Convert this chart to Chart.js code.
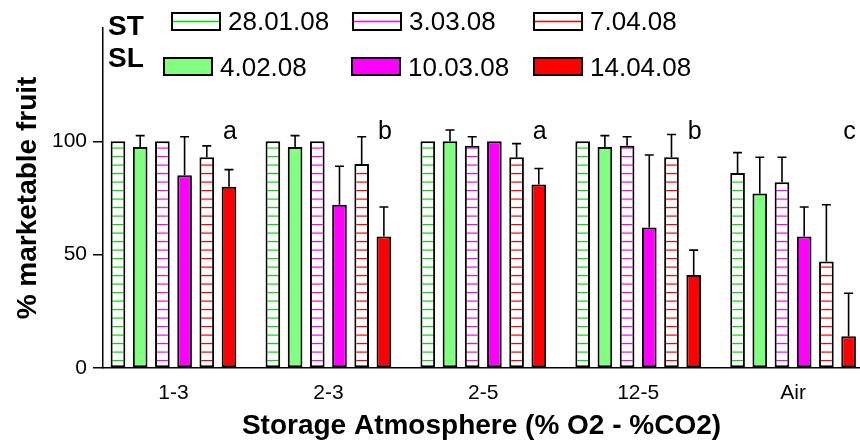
<!DOCTYPE html>
<html><head><meta charset="utf-8">
<script src="https://cdn.jsdelivr.net/npm/chart.js@4/dist/chart.umd.min.js"></script>
<style>html,body{margin:0;padding:0;background:#fff;overflow:hidden}#wrap{width:860px;height:443px;position:relative}</style>
</head><body><div id="wrap"><canvas id="c"></canvas></div>
<script>
// ---- data ----
const categories = ['1-3', '2-3', '2-5', '12-5', 'Air'];
const groupNames = ['ST', 'SL'];
const seriesNames = ['28.01.08', '4.02.08', '3.03.08', '10.03.08', '7.04.08', '14.04.08'];
const st280108 = [100, 100, 100, 100, 86];
const st280108Err = [0, 0, 0, 0, 9];
const sl040208 = [97.5, 97.5, 100, 97.5, 77];
const sl040208Err = [5, 5, 5, 5, 16];
const st030308 = [100, 100, 98, 98, 82];
const st030308Err = [0, 0, 4, 4, 11];
const sl100308 = [85, 72, 100, 62, 58];
const sl100308Err = [17, 17, 0, 32, 13];
const st070408 = [93, 90, 93, 93, 47];
const st070408Err = [5, 12, 6, 10, 25];
const sl140408 = [80, 58, 81, 41, 14];
const sl140408Err = [7.5, 13, 7, 11, 19];
const letters = ['a', 'b', 'a', 'b', 'c'];
const yTicks = [0, 50, 100];

const FONT = "'Liberation Sans', Arial, Helvetica, sans-serif";
const canvas = document.getElementById('c');
const mainCtx = canvas.getContext('2d');
function stripes(color) {
  const c = document.createElement('canvas');
  c.width = 8; c.height = 17;
  const g = c.getContext('2d');
  g.fillStyle = '#fff'; g.fillRect(0, 0, 8, 17);
  g.fillStyle = color;
  g.fillRect(0, 3, 8, 1.2);
  g.fillRect(0, 11.5, 8, 1.2);
  return mainCtx.createPattern(c, 'repeat');
}
const GREEN_LINE = '#00e000', GREEN_FILL = '#80ff80', MAG = '#ff00ff', RED = '#ff0000';

const seriesDefs = [
  {name: seriesNames[0], group: 0, vals: st280108, err: st280108Err, hatch: true, color: GREEN_LINE},
  {name: seriesNames[1], group: 1, vals: sl040208, err: sl040208Err, hatch: false, color: GREEN_FILL},
  {name: seriesNames[2], group: 0, vals: st030308, err: st030308Err, hatch: true, color: MAG},
  {name: seriesNames[3], group: 1, vals: sl100308, err: sl100308Err, hatch: false, color: MAG},
  {name: seriesNames[4], group: 0, vals: st070408, err: st070408Err, hatch: true, color: RED},
  {name: seriesNames[5], group: 1, vals: sl140408, err: sl140408Err, hatch: false, color: RED}
];

const datasets = seriesDefs.map(s => ({
  label: groupNames[s.group] + ' ' + s.name,
  data: s.vals.map((v, i) => ({x: i, y: v})),
  errors: s.err,
  hatch: s.hatch,
  baseColor: s.color,
  backgroundColor: s.hatch ? stripes(s.color) : s.color,
  borderColor: '#000',
  borderWidth: 2,
  borderSkipped: false,
  categoryPercentage: 0.86,
  barPercentage: 0.66
}));

const errorBars = {
  id: 'errorBars',
  afterDatasetsDraw(chart) {
    const ctx = chart.ctx, y = chart.scales.y;
    ctx.save();
    ctx.strokeStyle = '#000'; ctx.lineWidth = 1.6;
    chart.data.datasets.forEach((ds, di) => {
      const meta = chart.getDatasetMeta(di);
      meta.data.forEach((bar, i) => {
        const e = ds.errors[i];
        if (!e) return;
        const top = y.getPixelForValue(ds.data[i].y + e);
        ctx.beginPath();
        ctx.moveTo(bar.x, bar.y); ctx.lineTo(bar.x, top);
        ctx.moveTo(bar.x - 4.5, top); ctx.lineTo(bar.x + 4.5, top);
        ctx.stroke();
      });
    });
    // significance letters above last bar of each group
    const last = chart.getDatasetMeta(chart.data.datasets.length - 1);
    ctx.fillStyle = '#000';
    ctx.font = '25px ' + FONT;
    ctx.textAlign = 'center'; ctx.textBaseline = 'alphabetic';
    letters.forEach((l, i) => {
      ctx.fillText(l, last.data[i].x + 1, y.getPixelForValue(101));
    });
    ctx.restore();
  }
};

const customLegend = {
  id: 'customLegend',
  afterDraw(chart) {
    const ctx = chart.ctx;
    ctx.save();
    ctx.fillStyle = '#000';
    ctx.font = 'bold 28px ' + FONT;
    ctx.textAlign = 'left'; ctx.textBaseline = 'alphabetic';
    const labelBase = [35, 67];
    groupNames.forEach((g, r) => ctx.fillText(g, 108, labelBase[r]));
    const boxX = [[172, 353, 534], [164, 352, 534]];
    const boxY = [13, 58];
    const textBase = [30, 76];
    const counters = [0, 0];
    ctx.font = '26px ' + FONT;
    chart.data.datasets.forEach((ds, di) => {
      const r = seriesDefs[di].group;
      const k = counters[r]++;
      const x = boxX[r][k], yb = boxY[r];
      const w = 48, h = 17;
      ctx.fillStyle = ds.hatch ? '#fff' : ds.baseColor;
      ctx.fillRect(x, yb, w, h);
      if (ds.hatch) {
        ctx.strokeStyle = ds.baseColor; ctx.lineWidth = 1.5;
        ctx.beginPath(); ctx.moveTo(x + 1, yb + h / 2); ctx.lineTo(x + w - 1, yb + h / 2); ctx.stroke();
      }
      ctx.strokeStyle = '#000'; ctx.lineWidth = 2;
      ctx.strokeRect(x, yb, w, h);
      ctx.fillStyle = '#000';
      ctx.fillText(seriesDefs[di].name, x + 56, textBase[r]);
    });
    ctx.restore();
  }
};

new Chart(canvas, {
  type: 'bar',
  data: {datasets},
  plugins: [errorBars, customLegend],
  options: {
    responsive: true,
    maintainAspectRatio: false,
    animation: false,
    devicePixelRatio: 1,
    layout: {padding: {top: 28, right: 0, left: 0, bottom: 0}},
    plugins: {legend: {display: false}, tooltip: {enabled: false}},
    scales: {
      x: {
        type: 'linear',
        offset: false,
        min: -0.455,
        max: 4.432,
        afterBuildTicks: s => { s.ticks = categories.map((c, i) => ({value: i})); },
        afterFit: s => { s.height = 75; },
        grid: {display: false, drawTicks: false, offset: false},
        border: {display: true, color: '#000', width: 1.5},
        ticks: {
          autoSkip: false, maxRotation: 0, padding: 13, color: '#000',
          font: {family: FONT, size: 21},
          callback: v => categories[v]
        },
        title: {
          display: true, text: 'Storage Atmosphere (% O2 - %CO2)', color: '#000',
          font: {family: FONT, size: 28, weight: 'bold'}, padding: {top: 0, bottom: 0}
        }
      },
      y: {
        min: 0, max: 150,
        afterBuildTicks: s => { s.ticks = yTicks.map(v => ({value: v})); },
        afterFit: s => { s.width = 103; },
        grid: {display: true, drawOnChartArea: false, drawTicks: true, tickLength: 10, color: '#000', lineWidth: 1.5},
        border: {display: true, color: '#000', width: 1.5},
        ticks: {padding: 6, color: '#000', font: {family: FONT, size: 21}},
        title: {
          display: true, text: '% marketable fruit', color: '#000',
          font: {family: FONT, size: 28, weight: 'bold'}, padding: {top: 11, bottom: 0}
        }
      }
    }
  }
});
</script>
</body></html>
